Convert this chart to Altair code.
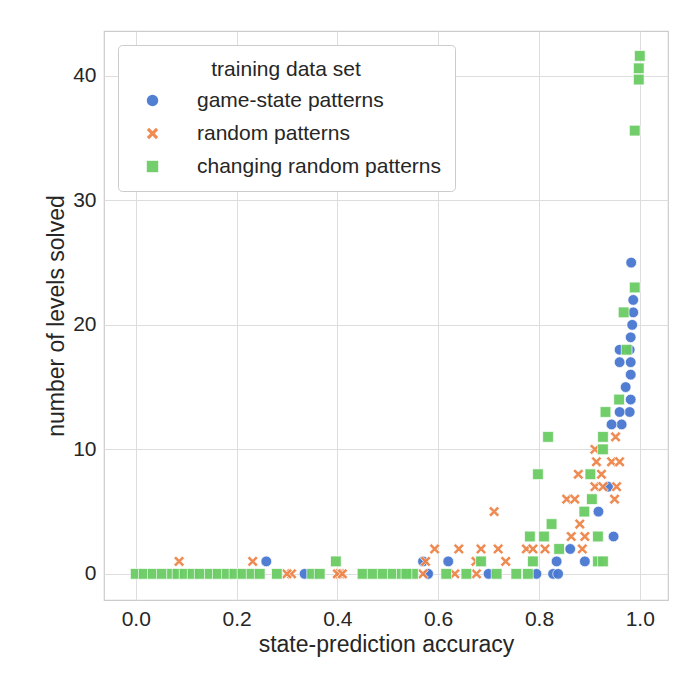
import altair as alt
import pandas as pd

# game-state patterns
gs_x = [0.983, 0.987, 0.987, 0.985, 0.982, 0.98, 0.96, 0.982, 0.96, 0.982, 0.972, 0.982,
        0.98, 0.96, 0.964, 0.944, 0.937, 0.918, 0.948, 0.862, 0.891, 0.835, 0.62, 0.57,
        0.259, 0.58, 0.70, 0.795, 0.828, 0.838, 0.335, 0.58]
gs_y = [25, 22, 21, 20, 19, 18, 18, 17, 17, 16, 15, 14,
        13, 13, 12, 12, 7, 5, 3, 2, 1, 1, 1, 1,
        1, 0, 0, 0, 0, 0, 0, 0]

# random patterns
rp_x = [0.952, 0.911, 0.914, 0.944, 0.96, 0.878, 0.924, 0.911, 0.927, 0.954, 0.855, 0.871,
        0.95, 0.711, 0.881, 0.864, 0.891, 0.593, 0.641, 0.685, 0.719, 0.775, 0.788, 0.812,
        0.886, 0.575, 0.675, 0.734, 0.086, 0.232, 0.633, 0.676, 0.309, 0.30, 0.405, 0.40,
        0.41, 0.57]
rp_y = [11, 10, 9, 9, 9, 8, 8, 7, 7, 7, 6, 6,
        6, 5, 4, 3, 3, 2, 2, 2, 2, 2, 2, 2,
        2, 1, 1, 1, 1, 1, 0, 0, 0, 0, 0, 0,
        0, 0]

# changing random patterns
cr_x = [1.0, 0.998, 0.998, 0.99, 0.99, 0.968, 0.974, 0.959, 0.932, 0.818, 0.927, 0.927,
        0.798, 0.902, 0.905, 0.89, 0.825, 0.782, 0.81, 0.917, 0.84, 0.685, 0.788, 0.917,
        0.927, 0.397,
        0.0, 0.016, 0.034, 0.052, 0.072, 0.083, 0.097, 0.113, 0.127, 0.147, 0.163, 0.181,
        0.196, 0.212, 0.230, 0.246, 0.28, 0.35, 0.365, 0.45, 0.47, 0.49, 0.51, 0.528, 0.55,
        0.537, 0.616, 0.656, 0.716, 0.755, 0.778]
cr_y = [41.6, 40.6, 39.7, 35.6, 23, 21, 18, 14, 13, 11, 11, 10,
        8, 8, 6, 5, 4, 3, 3, 3, 2, 1, 1, 1,
        1, 1,
        0, 0, 0, 0, 0, 0, 0, 0, 0, 0, 0, 0,
        0, 0, 0, 0, 0, 0, 0, 0, 0, 0, 0, 0, 0,
        0, 0, 0, 0, 0, 0]

series = ["game-state patterns", "random patterns", "changing random patterns"]
df = pd.concat([
    pd.DataFrame({"acc": gs_x, "levels": gs_y, "set": series[0]}),
    pd.DataFrame({"acc": rp_x, "levels": rp_y, "set": series[1]}),
    pd.DataFrame({"acc": cr_x, "levels": cr_y, "set": series[2]}),
])

# thick "X" marker
x_shape = ("M-0.6,-1L0,-0.4L0.6,-1L1,-0.6L0.4,0L1,0.6L0.6,1L0,0.4"
           "L-0.6,1L-1,0.6L-0.4,0L-1,-0.6Z")

chart = alt.Chart(df).mark_point(filled=True, opacity=0.95, stroke="white", strokeWidth=0.7).encode(
    x=alt.X("acc:Q", title="state-prediction accuracy",
            scale=alt.Scale(domain=[-0.063, 1.056], nice=False, zero=False),
            axis=alt.Axis(values=[0, 0.2, 0.4, 0.6, 0.8, 1.0], format=".1f")),
    y=alt.Y("levels:Q", title="number of levels solved",
            scale=alt.Scale(domain=[-2.1, 43.6], nice=False, zero=False),
            axis=alt.Axis(values=[0, 10, 20, 30, 40])),
    color=alt.Color("set:N", sort=series, title="training data set",
                    scale=alt.Scale(domain=series, range=["#4878d0", "#ee854a", "#6acc64"])),
    shape=alt.Shape("set:N", sort=series, title="training data set",
                    scale=alt.Scale(domain=series, range=["circle", x_shape, "square"])),
    size=alt.value(115),
).properties(
    width=564, height=569,
    autosize="none",
    padding={"left": 96, "top": 23, "right": 24, "bottom": 92},
).configure_view(
    stroke="#cccccc", strokeWidth=1.2
).configure_axis(
    grid=True, gridColor="#dddddd", domain=False, ticks=False,
    labelFont="Liberation Sans", titleFont="Liberation Sans",
    labelFontSize=21, titleFontSize=23, titleFontWeight="normal",
    labelColor="#262626", titleColor="#262626", labelPadding=8,
).configure_legend(
    orient="none", legendX=14, legendY=14,
    titleFont="Liberation Sans", labelFont="Liberation Sans",
    titleFontSize=21, labelFontSize=21, titleFontWeight="normal",
    titleColor="#262626", labelColor="#262626", labelLimit=0,
    strokeColor="#cccccc", fillColor="white", padding=14, cornerRadius=4,
    symbolSize=130, symbolStrokeWidth=0, rowPadding=11, titlePadding=10,
    labelOffset=34, symbolOffset=10, titleAnchor="middle",
)

chart.save("out.html", embed_options={"renderer": "svg", "actions": False})
